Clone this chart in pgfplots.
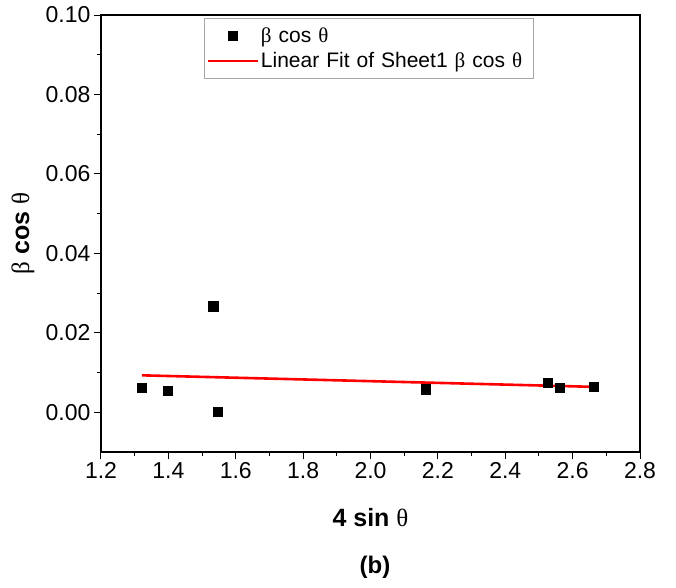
\documentclass[border=0pt]{standalone}
\usepackage{fontspec}
\setmainfont{Liberation Sans}
\newfontfamily\grk{Liberation Serif}
\usepackage{pgfplots}
\pgfplotsset{compat=1.18}
\pgfplotsset{
  mylinelegend/.style={legend image code/.code={\draw[##1] (0pt,0pt) -- (50pt,0pt);}},
  mymarklegend/.style={legend image code/.code={\draw[##1] plot coordinates {(25pt,0pt)};}},
}
\begin{document}
\begin{tikzpicture}[x=1pt,y=1pt]
\useasboundingbox (-101,-135) rectangle (575,452);
\begin{axis}[
  at={(0,0)}, anchor=south west,
  scale only axis, width=539pt, height=437pt,
  xmin=1.2, xmax=2.8, ymin=-0.01, ymax=0.10,
  xtick={1.2,1.4,...,2.8}, ytick={0,0.02,...,0.1},
  minor x tick num=1, minor y tick num=1,
  tick pos=left, tick align=outside,
  major tick length=7pt, minor tick length=4pt,
  every tick/.style={black, line width=1pt},
  axis line style={line width=1.2pt},
  /pgf/number format/assume math mode=true,
  xticklabel style={/pgf/number format/.cd, fixed, fixed zerofill, precision=1},
  yticklabel style={/pgf/number format/.cd, fixed, fixed zerofill, precision=2},
  ticklabel style={font=\fontsize{23}{26}\selectfont},
  scaled y ticks=false,
  xlabel={\textbf{4 sin {\grk\mdseries θ}}},
  ylabel={{\grk β} \textbf{cos} {\grk θ}},
  xlabel style={font=\fontsize{25}{28}\selectfont, at={(axis description cs:0.5,-0.151)}, anchor=center},
  ylabel style={font=\fontsize{25}{28}\selectfont, at={(axis description cs:-0.1447,0.5)}, anchor=center},
  legend style={at={(0.191,0.993)}, anchor=north west, draw=gray!70, line width=0.8pt,
    font=\fontsize{21}{24}\selectfont, row sep=5pt, inner xsep=2pt, inner ysep=7pt,
    text width=268pt},
  legend cell align=left,
]
\addplot[only marks, mark=square*, mark size=4.6pt, black, mymarklegend] coordinates {
(1.3215,0.0062) (1.397,0.0054) (1.533,0.0267) (1.546,0.0002)
(2.164,0.0058) (2.525,0.0075) (2.562,0.0061) (2.662,0.0065)};
\addlegendentry{{\grk β} cos {\grk θ}}
\addplot[red, line width=2.6pt, mylinelegend] coordinates {(1.3215,0.0093) (2.662,0.0064)};
\addlegendentry{Linear Fit of Sheet1 {\grk β} cos {\grk θ}}
\end{axis}
\node[font=\bfseries\fontsize{24}{28}\selectfont] at (274,-115) {(b)};
\end{tikzpicture}
\end{document}
